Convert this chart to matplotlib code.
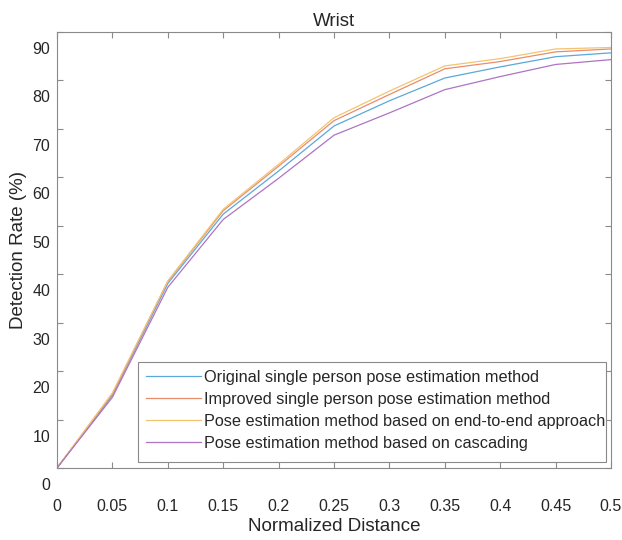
import numpy as np
import matplotlib
matplotlib.use("Agg")
import matplotlib.pyplot as plt
from matplotlib.patches import Rectangle
from matplotlib.transforms import ScaledTranslation

plt.rcParams['font.family'] = ['Liberation Sans', 'DejaVu Sans']

# normalized distance thresholds
dist = [0, 0.05, 0.1, 0.15, 0.2, 0.25, 0.3, 0.35, 0.4, 0.45, 0.5]

# detection rate (%) for the wrist joint
original = [0, 15.0, 38.1, 52.4, 61.3, 70.6, 75.8, 80.5, 82.8, 84.9, 85.7]
improved = [0, 15.3, 38.5, 53.1, 62.3, 71.7, 77.1, 82.4, 83.9, 85.9, 86.5]
end_to_end = [0, 15.5, 38.6, 53.4, 62.7, 72.3, 77.8, 83.0, 84.5, 86.5, 86.8]
cascading = [0, 14.6, 37.3, 51.3, 59.8, 68.7, 73.3, 78.1, 80.8, 83.3, 84.3]

names = ['Original single person pose estimation method',
         'Improved single person pose estimation method',
         'Pose estimation method based on end-to-end approach',
         'Pose estimation method based on cascading']
colors = ['#5aa8dc', '#e98c6c', '#f3c470', '#ad74c2']

xticks = [0, 0.05, 0.1, 0.15, 0.2, 0.25, 0.3, 0.35, 0.4, 0.45, 0.5]
xticklabels = ['0', '0.05', '0.1', '0.15', '0.2', '0.25', '0.3', '0.35', '0.4', '0.45', '0.5']
yticks = [0, 10, 20, 30, 40, 50, 60, 70, 80, 90]

fig = plt.figure(figsize=(6.22, 5.40), dpi=100)
ax = fig.add_axes([57/622, 1 - 468/540, 554/622, 436/540])

for ys, name, c in zip([original, improved, end_to_end, cascading], names, colors):
    ax.plot(dist, ys, color=c, lw=0.9, label=name)

ax.set_xlim(0, 0.5)
ax.set_ylim(0, 90)
ax.set_xticks(xticks)
ax.set_xticklabels(xticklabels)
ax.set_yticks(yticks)

gray = '#8a8a8a'
for sp in ax.spines.values():
    sp.set_color(gray)
    sp.set_linewidth(0.8)
ax.tick_params(direction='in', length=4, width=0.8, color=gray,
               top=True, right=True, labelsize=11.5, labelcolor='#262626')
ax.tick_params(axis='x', pad=22)
ax.tick_params(axis='y', pad=5)

# y labels sit a bit below their tick marks
shift = ScaledTranslation(0, -16/100, fig.dpi_scale_trans)
for tick in ax.yaxis.get_major_ticks():
    tick.label1.set_transform(tick.label1.get_transform() + shift)

ax.set_title('Wrist', fontsize=13.5, color='#262626', pad=4)
ax.set_xlabel('Normalized Distance', fontsize=13.5, color='#262626', labelpad=3)
ax.set_ylabel('Detection Rate (%)', fontsize=13.5, color='#262626', labelpad=4)

# legend entries without frame, box drawn separately (tight on the right)
leg = ax.legend(loc='upper left', bbox_to_anchor=(0.1606, 0.2244), fontsize=11.7,
                frameon=False, handlelength=3.4, handletextpad=0.15,
                labelspacing=0.42, borderpad=0, borderaxespad=0)
for t in leg.get_texts():
    t.set_color('#262626')
ax.add_patch(Rectangle((0.146, 0.0138), 0.845, 0.229, transform=ax.transAxes,
                       fill=True, facecolor='white', edgecolor=gray, lw=0.8, zorder=4))
leg.set_zorder(5)

fig.savefig('out.png', dpi=100)
